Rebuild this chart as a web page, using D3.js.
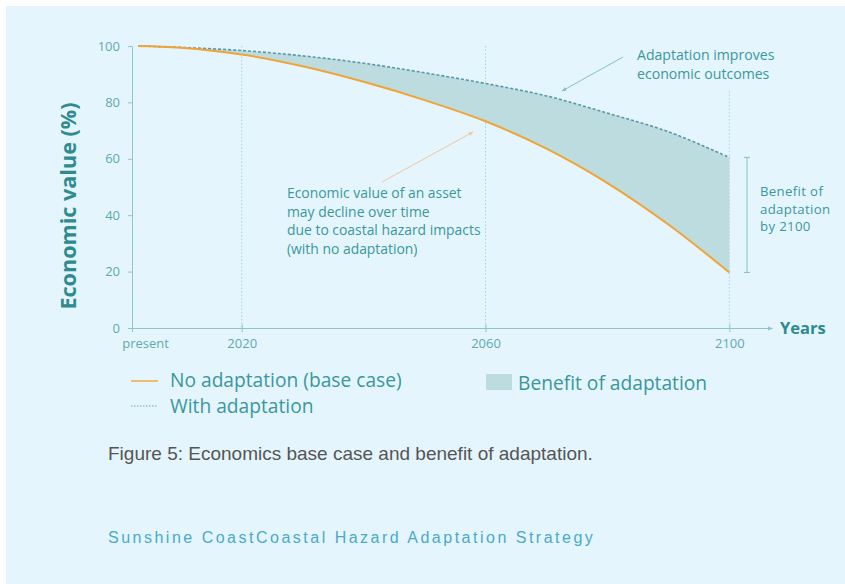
<!DOCTYPE html>
<html>
<head>
<meta charset="utf-8">
<script src="https://cdn.jsdelivr.net/npm/d3@7"></script>
<style>
  body { margin: 0; background: #fff; }
  svg { display: block; }
</style>
</head>
<body>
<script>
// data
const years = [2003, 2010, 2020, 2030, 2040, 2050, 2060, 2070, 2080, 2090, 2100];
const noAdaptation = [100, 99.4, 97.0, 92.8, 87.3, 80.8, 73.3, 63.6, 51.4, 36.7, 19.7];
const withAdaptation = [100, 99.5, 98.4, 96.5, 93.9, 90.5, 86.7, 82.3, 76.2, 69.6, 60.5];
const yTicks = [0, 20, 40, 60, 80, 100];
const xTicks = [2002, 2020, 2060, 2100];
const xTickLabels = ["present", "2020", "2060", "2100"];

const rows = years.map((yr, i) => ({ year: yr, base: noAdaptation[i], adapt: withAdaptation[i] }));

const W = 845, H = 584;
const margin = {top: 46, left: 132};
const width = 640, height = 282;

const teal = "#3a979b", tealDark = "#2e8b8f", axisCol = "#8fc6ca";
const font = "'Open Sans', sans-serif";

const root = d3.select("body").append("svg")
  .attr("width", W)
  .attr("height", H);

root.append("rect")
  .attr("x", 6).attr("y", 6)
  .attr("width", W - 6).attr("height", H - 6)
  .attr("fill", "#e5f5fd");

const defs = root.append("defs");
function marker(id, color) {
  defs.append("marker")
    .attr("id", id)
    .attr("viewBox", "0 0 10 10")
    .attr("refX", 9).attr("refY", 5)
    .attr("markerWidth", 5).attr("markerHeight", 5)
    .attr("orient", "auto")
    .append("path")
    .attr("d", "M0,1L10,5L0,9Z")
    .attr("fill", color);
}
marker("arrTeal", "#86bfc4");
marker("arrOrange", "#f2c59a");
marker("arrAxis", axisCol);

const svg = root.append("g")
  .attr("transform", "translate(" + margin.left + "," + margin.top + ")");

const x = d3.scaleLinear().domain([2002, 2107]).range([0, width]);
const y = d3.scaleLinear().domain([0, 100]).range([height, 0]);
const curve = d3.curveCatmullRom.alpha(0.5);

// dotted vertical guides
svg.append("g").selectAll("line")
  .data([[2020, 100], [2060, 100], [2100, 84]])
  .enter().append("line")
  .attr("x1", d => x(d[0])).attr("x2", d => x(d[0]))
  .attr("y1", d => y(d[1])).attr("y2", y(0))
  .attr("stroke", "#a8d4dd")
  .attr("stroke-width", 1)
  .attr("stroke-dasharray", "1.5,2");

// benefit area
svg.append("path")
  .datum(rows)
  .attr("d", d3.area()
    .x(d => x(d.year))
    .y0(d => y(d.base))
    .y1(d => y(d.adapt))
    .curve(curve))
  .attr("fill", "#bddcdf");

svg.append("path")
  .datum(rows)
  .attr("d", d3.line().x(d => x(d.year)).y(d => y(d.adapt)).curve(curve))
  .attr("fill", "none")
  .attr("stroke", "#5898a6")
  .attr("stroke-width", 1.6)
  .attr("stroke-dasharray", "3,2");

svg.append("path")
  .datum(rows)
  .attr("d", d3.line().x(d => x(d.year)).y(d => y(d.base)).curve(curve))
  .attr("fill", "none")
  .attr("stroke", "#f0a436")
  .attr("stroke-width", 2);

// axes
const yAxis = svg.append("g")
  .call(d3.axisLeft(y).tickValues(yTicks).tickSize(4).tickSizeOuter(0).tickPadding(8));

const xAxis = svg.append("g")
  .attr("transform", "translate(0," + height + ")")
  .call(d3.axisBottom(x).tickValues(xTicks).tickSize(4).tickSizeOuter(0).tickPadding(7)
    .tickFormat((d, i) => xTickLabels[i]));

xAxis.selectAll(".tick line").attr("y1", -4);
xAxis.select(".domain").attr("marker-end", "url(#arrAxis)");
xAxis.selectAll(".tick").filter(d => d === 2002).select("text").attr("dx", 13);

[yAxis, xAxis].forEach(ax => {
  ax.select(".domain").attr("stroke", axisCol);
  ax.selectAll(".tick line").attr("stroke", axisCol);
  ax.selectAll(".tick text")
    .attr("fill", "#5fa9ad")
    .style("font-family", font)
    .style("font-size", "13px");
});

// axis titles
root.append("text")
  .attr("transform", "translate(67,206) rotate(-90)")
  .attr("text-anchor", "middle")
  .attr("dominant-baseline", "central")
  .attr("fill", tealDark)
  .style("font-family", font)
  .style("font-weight", "bold")
  .style("font-size", "21.6px")
  .text("Economic value (%)");

root.append("text")
  .attr("x", 780).attr("y", 334)
  .attr("fill", tealDark)
  .style("font-family", font)
  .style("font-weight", "bold")
  .style("font-size", "16.5px")
  .text("Years");

// annotations
function lines(g, x0, y0, step, texts, size, spacing) {
  g.append("text")
    .attr("fill", teal)
    .style("font-family", font)
    .style("font-size", size + "px")
    .style("letter-spacing", (spacing || 0) + "px")
    .selectAll("tspan")
    .data(texts)
    .enter().append("tspan")
    .attr("x", x0)
    .attr("y", (d, i) => y0 + i * step)
    .text(d => d);
}

lines(root, 637, 60, 18.5, ["Adaptation improves", "economic outcomes"], 14.1);
root.append("line")
  .attr("x1", 623).attr("y1", 57).attr("x2", 562).attr("y2", 91)
  .attr("stroke", "#86bfc4").attr("stroke-width", 1)
  .attr("marker-end", "url(#arrTeal)");

lines(root, 287, 198, 18.5, ["Economic value of an asset", "may decline over time",
  "due to coastal hazard impacts", "(with no adaptation)"], 13.9);
root.append("line")
  .attr("x1", 382).attr("y1", 182).attr("x2", 473).attr("y2", 132)
  .attr("stroke", "#f2c59a").attr("stroke-width", 1)
  .attr("marker-end", "url(#arrOrange)");

lines(root, 760, 196, 17.5, ["Benefit of", "adaptation", "by 2100"], 13.2, 0.35);

// benefit bracket at 2100
const bx = 747;
const bTop = margin.top + y(withAdaptation[withAdaptation.length - 1]);
const bBot = margin.top + y(noAdaptation[noAdaptation.length - 1]);
const br = root.append("g").attr("stroke", "#86bfc4").attr("stroke-width", 1);
br.append("line").attr("x1", bx).attr("x2", bx).attr("y1", bTop).attr("y2", bBot);
br.append("line").attr("x1", bx - 3).attr("x2", bx + 3).attr("y1", bTop).attr("y2", bTop);
br.append("line").attr("x1", bx - 3).attr("x2", bx + 3).attr("y1", bBot).attr("y2", bBot);

// legend
const lg = root.append("g");
lg.append("line").attr("x1", 131).attr("x2", 158).attr("y1", 381).attr("y2", 381)
  .attr("stroke", "#f0bd6e").attr("stroke-width", 2);
lg.append("line").attr("x1", 131).attr("x2", 158).attr("y1", 406).attr("y2", 406)
  .attr("stroke", "#6aa6b2").attr("stroke-width", 1).attr("stroke-dasharray", "1.5,1.5");
lg.append("rect").attr("x", 486).attr("y", 374).attr("width", 26).attr("height", 16)
  .attr("fill", "#bddcdf");

[["No adaptation (base case)", 170, 379], ["With adaptation", 170, 405],
 ["Benefit of adaptation", 518, 382]].forEach(t => {
  lg.append("text")
    .attr("x", t[1]).attr("y", t[2])
    .attr("dominant-baseline", "central")
    .attr("fill", teal)
    .style("font-family", font)
    .style("font-size", "19.2px")
    .text(t[0]);
});

// caption and footer
root.append("text")
  .attr("x", 108).attr("y", 460)
  .attr("fill", "#555")
  .style("font-family", "'Liberation Sans', Arial, sans-serif")
  .style("font-size", "19px")
  .text("Figure 5: Economics base case and benefit of adaptation.");

root.append("text")
  .attr("x", 108).attr("y", 543)
  .attr("fill", "#4aa9c9")
  .style("font-family", "'Liberation Sans', Arial, sans-serif")
  .style("font-size", "16px")
  .style("letter-spacing", "2.5px")
  .text("Sunshine CoastCoastal Hazard Adaptation Strategy");
</script>
</body>
</html>
